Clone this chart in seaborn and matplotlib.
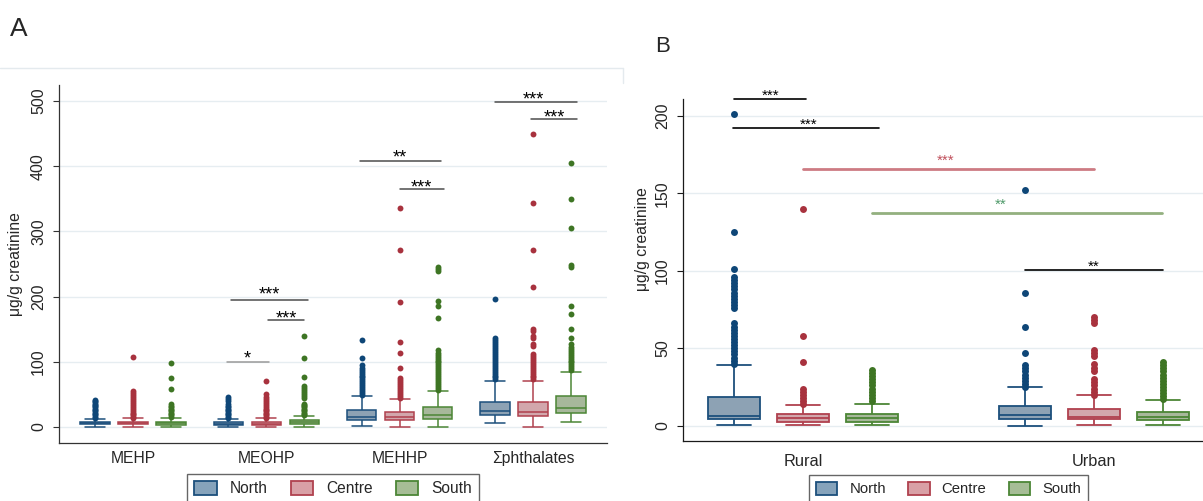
import pandas as pd
import seaborn as sns
import matplotlib.pyplot as plt
from matplotlib.patches import Patch
from matplotlib.lines import Line2D

regions = ["North", "Centre", "South"]
fills = ["#86a3bb", "#d9a0a6", "#a6bd96"]
edges = ["#1c4f7c", "#b0414e", "#4c8636"]
dots = ["#0e4677", "#a8323e", "#3e7524"]

# ---- panel A: compounds ----
compounds = ["MEHP", "MEOHP", "MEHHP", "Σphthalates"]
# low whisker, q1, median, q3, high whisker
a_north = [[0.3, 4, 6, 8, 13], [0.3, 3, 5, 7.5, 13], [2, 11, 16, 26, 47], [5.6, 18, 25, 39, 70]]
a_centre = [[0.3, 4, 6, 8, 13.5], [0.3, 3, 5, 8, 13.5], [0.5, 11, 16, 23.5, 43], [0.5, 17, 23, 38, 70]]
a_south = [[0.3, 3.5, 5.5, 8, 14.5], [0.3, 4, 7, 11, 17], [0.5, 12, 18, 31, 55], [7, 21, 29, 47.5, 85]]

a_north_out = [
    [14, 16, 18, 20, 22, 24, 26, 28, 30, 32, 34, 36, 38, 40, 42],
    [14, 16, 18, 20, 22, 24, 26, 28, 30, 33, 36, 40, 43, 46],
    [49, 52, 55, 58, 61, 64, 67, 70, 73, 76, 79, 82, 85, 88, 91, 95, 106, 134],
    [73, 76, 79, 82, 85, 88, 91, 94, 97, 100, 103, 106, 109, 112, 115, 118, 121, 124,
     127, 130, 133, 136, 197],
]
a_centre_out = [
    [14, 16, 18, 20, 22, 25, 28, 31, 34, 37, 40, 43, 46, 49, 52, 55, 107],
    [14, 16, 18, 20, 22, 24, 26, 28, 31, 34, 37, 40, 43, 46, 50, 70],
    [45, 48, 51, 54, 57, 60, 63, 66, 69, 72, 75, 91, 113, 131, 192, 272, 336],
    [73, 76, 79, 82, 85, 88, 91, 94, 97, 100, 103, 106, 109, 112, 124, 128, 137, 140,
     148, 151, 214, 271, 343, 449],
]
a_south_out = [
    [16, 18, 20, 22, 24, 26, 28, 30, 33, 36, 58, 75, 98],
    [18, 20, 22, 24, 26, 28, 30, 32, 34, 36, 45, 48, 51, 54, 57, 60, 63, 76, 106, 139],
    [57, 60, 63, 66, 69, 72, 75, 78, 81, 84, 87, 90, 93, 96, 99, 102, 105, 108, 111,
     114, 118, 167, 185, 193, 240, 243, 246],
    [87, 90, 93, 96, 99, 102, 105, 108, 111, 114, 117, 120, 123, 128, 136, 151, 173,
     186, 246, 248, 305, 349, 405],
]

# significance bars: x0, x1, bar y, label, star x, star y, line colour, star colour, line width
sig_a = [
    (0.705, 1.02, 100, "*", 0.86, 114, "#9a9a9a", "black", 1.1),
    (0.735, 1.31, 195, "***", 1.02, 211, "#4d4d4d", "black", 1.1),
    (1.01, 1.285, 163.6, "***", 1.15, 174.4, "#4d4d4d", "black", 1.1),
    (1.70, 2.31, 408, "**", 2.0, 421.3, "#4d4d4d", "black", 1.1),
    (2.0, 2.33, 364.5, "***", 2.16, 376.2, "#4d4d4d", "black", 1.1),
    (2.715, 3.33, 498, "***", 3.0, 510.7, "#4d4d4d", "black", 1.1),
    (2.985, 3.33, 472, "***", 3.16, 482.7, "#4d4d4d", "black", 1.1),
]

# ---- panel B: area ----
areas = ["Rural", "Urban"]
b_north = [[0.5, 4, 6.5, 18.7, 39], [0, 4.1, 6.7, 12.9, 24.8]]
b_centre = [[0.5, 2.6, 5, 7.6, 13.4], [0.3, 4, 5.4, 10.8, 19.6]]
b_south = [[0.5, 2.6, 5, 7.6, 13.8], [0.3, 3.7, 5.4, 8.6, 16.4]]

b_north_out = [
    [40, 42, 44, 46, 48, 50, 52, 54, 56, 58, 60, 62, 64, 66, 76, 78, 80, 82, 84, 86,
     88, 90, 92, 94, 96, 101, 125, 201],
    [25, 27, 29, 31, 33, 35, 37, 39, 47, 64, 86, 152],
]
b_centre_out = [
    [14, 16, 18, 20, 22, 24, 41, 58, 140],
    [20, 22, 24, 26, 28, 30, 35, 37, 40, 45, 47, 49, 66, 68, 70],
]
b_south_out = [
    [16, 18, 20, 22, 24, 26, 28, 30, 32, 34, 36],
    [17, 19, 21, 23, 25, 27, 29, 31, 33, 35, 37, 39, 41],
]

sig_b = [
    (-0.236, 0.009, 211, "***", -0.11, 216.2, "black", "black", 1.2),
    (-0.24, 0.26, 192.5, "***", 0.02, 197.5, "black", "black", 1.2),
    (0.0, 1.0, 166, "***", 0.49, 174.2, "#cd7b83", "#c0505c", 2.0),
    (0.238, 1.235, 137.6, "**", 0.68, 145.6, "#93b07f", "#4f9a6a", 2.0),
    (0.763, 1.238, 100.6, "**", 1.0, 106, "black", "black", 1.2),
]

sns.set_style("white")
plt.rcParams["font.family"] = ["Liberation Sans", "DejaVu Sans"]


def five_num_frame(cats, groups):
    rows = []
    for region, stats in zip(regions, groups):
        for i, vals in enumerate(stats):
            for v in vals:
                rows.append((i, region, v))
    return pd.DataFrame(rows, columns=["pos", "region", "value"])


def draw_panel(ax, cats, stats, outs, width, gap, lw, dot_s, capw):
    df = five_num_frame(cats, stats)
    sns.boxplot(data=df, x="pos", y="value", hue="region", hue_order=regions,
                palette=fills, native_scale=True, width=width, gap=gap,
                whis=(0, 100), showfliers=False, linewidth=lw, legend=False,
                capwidths=capw, ax=ax)
    for cont, ec in zip(ax.containers, edges):
        for b in cont.boxes:
            b.set_edgecolor(ec)
        for ln in list(cont.whiskers) + list(cont.caps) + list(cont.medians):
            ln.set_color(ec)
    # outliers, placed on the dodged box centres
    for j, region_out in enumerate(outs):
        off = (j - 1) * width / 3
        xs, ys = [], []
        for i, vals in enumerate(region_out):
            xs += [i + off] * len(vals)
            ys += vals
        sns.scatterplot(x=xs, y=ys, color=dots[j], s=dot_s, linewidth=0, ax=ax, zorder=4)
    ax.set_xticks(range(len(cats)))
    ax.set_xticklabels(cats)
    ax.set_xlabel("")
    ax.set_ylabel("μg/g creatinine", fontsize=11.3)
    ax.yaxis.grid(True, color="#e6edf1", lw=1)
    ax.set_axisbelow(True)
    sns.despine(ax=ax)


def draw_sig(ax, sigs, fs):
    for x0, x1, y, lab, sx, sy, lc, sc, lw in sigs:
        ax.plot([x0, x1], [y, y], color=lc, lw=lw, clip_on=False, zorder=5)
        ax.annotate(lab, xy=(sx, sy), xytext=(0, -0.575 * fs), textcoords="offset points",
                    ha="center", va="baseline", fontsize=fs, color=sc,
                    annotation_clip=False)


fig = plt.figure(figsize=(12.03, 5.01), dpi=100)

# panel A
axA = fig.add_axes([59 / 1203, 58 / 501, 548 / 1203, 358 / 501])
draw_panel(axA, compounds, [a_north, a_centre, a_south],
           [a_north_out, a_centre_out, a_south_out],
           width=0.855, gap=0.23, lw=1.1, dot_s=18, capw=0.15)
axA.set_xlim(-0.555, 3.555)
axA.set_ylim(-24.5, 524.5)
axA.set_yticks([0, 100, 200, 300, 400, 500])
draw_sig(axA, sig_a, 13)
axA.yaxis.set_label_coords(-0.065, 0.5)

# panel B
axB = fig.add_axes([683 / 1203, 60 / 501, 520 / 1203, 342 / 501])
draw_panel(axB, areas, [b_north, b_centre, b_south],
           [b_north_out, b_centre_out, b_south_out],
           width=0.711, gap=0.245, lw=1.3, dot_s=25, capw=0.117)
axB.set_xlim(-0.412, 1.375)
axB.set_ylim(-9.9, 211)
axB.set_yticks([0, 50, 100, 150, 200])
draw_sig(axB, sig_b, 11)
axB.yaxis.set_label_coords(-0.0625, 0.59)

for ax, spine_c, xpad, xfs in [(axA, "#333333", 5.5, 11.3), (axB, "#1a1a1a", 9, 11.8)]:
    for s in ["left", "bottom"]:
        ax.spines[s].set_color(spine_c)
        ax.spines[s].set_linewidth(0.9)
    ax.tick_params(axis="y", length=4.3, width=0.8, color=spine_c, pad=5,
                   labelsize=11.5, labelrotation=90, left=True)
    ax.tick_params(axis="x", length=0, pad=xpad, labelsize=xfs)
    for lab in ax.get_yticklabels():
        lab.set_va("center")

# legends
handles = [Patch(facecolor=f, edgecolor=e, lw=1.3) for f, e in zip(fills, edges)]
for cx, top, fs in [(333 / 1203, 27 / 501, 11.2), (948.5 / 1203, 26 / 501, 10.7)]:
    leg = fig.legend(handles, regions, loc="upper center", bbox_to_anchor=(cx, top),
                     ncol=3, frameon=True, fancybox=False, edgecolor="#404040",
                     handlelength=1.45, handleheight=1.0, handletextpad=0.8,
                     columnspacing=1.5, borderpad=0.45, borderaxespad=0, fontsize=fs)
    leg.get_frame().set_linewidth(1.0)

# panel letters and faint outer frame of panel A
fig.text(10 / 1203, 1 - 17 / 501, "A", fontsize=19, va="top", ha="left")
fig.text(655 / 1203, 1 - 36 / 501, "B", fontsize=16, va="top", ha="left")
fig.add_artist(Line2D([0, 623 / 1203], [1 - 68 / 501] * 2, color="#e4eaee", lw=1))
fig.add_artist(Line2D([623 / 1203] * 2, [1 - 68 / 501, 1 - 83 / 501], color="#e4eaee", lw=1))

fig.savefig("out.png", dpi=100)
